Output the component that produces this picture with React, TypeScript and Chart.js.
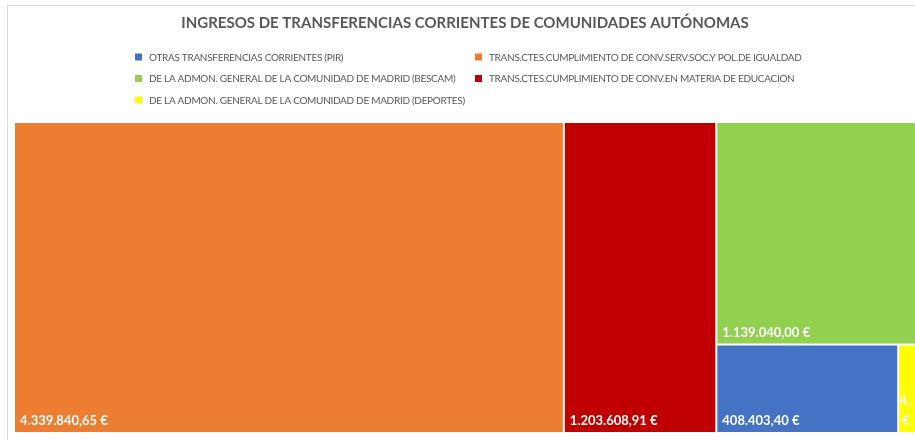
import React, { useEffect, useRef } from "react";
import { Chart, registerables } from "chart.js";

Chart.register(...registerables);

const TITLE = "INGRESOS DE TRANSFERENCIAS CORRIENTES DE COMUNIDADES AUTÓNOMAS";

const categories = [
  "OTRAS TRANSFERENCIAS CORRIENTES (PIR)",
  "TRANS.CTES.CUMPLIMIENTO DE CONV.SERV.SOC.Y POL.DE IGUALDAD",
  "DE LA ADMON. GENERAL DE LA COMUNIDAD DE MADRID (BESCAM)",
  "TRANS.CTES.CUMPLIMIENTO DE CONV.EN MATERIA DE EDUCACION",
  "DE LA ADMON. GENERAL DE LA COMUNIDAD DE MADRID (DEPORTES)",
];

const values = [408403.4, 4339840.65, 1139040.0, 1203608.91, 44500.0];

const colors = ["#4472C4", "#ED7D31", "#92D050", "#C00000", "#FFFF00"];

const fmtEuro = (v: number) => {
  const [i, d] = v.toFixed(2).split(".");
  return i.replace(/\B(?=(\d{3})+(?!\d))/g, ".") + "," + d + " €";
};

type Cell = { idx: number; x0: number; x1: number; y0: number; y1: number };

// Greedy slice layout in data units: largest item takes a strip along the shorter side
function layout(chart: any): Cell[] {
  const xs = chart.scales.x;
  const ys = chart.scales.y;
  const order = values.map((v, i) => i).sort((a, b) => values[b] - values[a]);
  let x0 = 0, x1 = values.reduce((a, b) => a + b, 0), y0 = 0, y1 = 1;
  let remaining = x1;
  const cells: Cell[] = [];
  order.forEach((idx, k) => {
    const v = values[idx];
    const pw = Math.abs(xs.getPixelForValue(x1) - xs.getPixelForValue(x0));
    const ph = Math.abs(ys.getPixelForValue(y1) - ys.getPixelForValue(y0));
    if (k === order.length - 1) {
      cells.push({ idx, x0, x1, y0, y1 });
      return;
    }
    const f = v / remaining;
    if (pw >= ph) {
      const xm = x0 + (x1 - x0) * f;
      cells.push({ idx, x0, x1: xm, y0, y1 });
      x0 = xm;
    } else {
      const ym = y0 + (y1 - y0) * f;
      cells.push({ idx, x0, x1, y0, y1: ym });
      y0 = ym;
    }
    remaining -= v;
  });
  return cells;
}

const FONT = "Lato, 'Noto Sans', sans-serif";

const treemapPlugin = {
  id: "treemapCells",
  beforeDraw(chart: any) {
    const ctx = chart.ctx;
    ctx.save();
    ctx.fillStyle = "#FFFFFF";
    ctx.fillRect(0, 0, chart.width, chart.height);
    ctx.strokeStyle = "#D9D9D9";
    ctx.lineWidth = 1;
    ctx.strokeRect(7.5, 5.5, chart.width + 20, chart.height + 20);
    // title
    ctx.fillStyle = "#595959";
    ctx.font = `bold 15px ${FONT}`;
    ctx.textAlign = "center";
    ctx.textBaseline = "middle";
    ctx.fillText(TITLE, 465, 23);
    // legend (2 columns)
    ctx.font = `10px ${FONT}`;
    try { ctx.letterSpacing = "-0.3px"; } catch (e) {}
    ctx.textAlign = "left";
    const colX = [135, 475];
    const rowY = [57, 78.5, 100];
    categories.forEach((c, i) => {
      const col = i % 2;
      const row = Math.floor(i / 2);
      ctx.fillStyle = colors[i];
      ctx.fillRect(colX[col], rowY[row] - 3.5, 7, 7);
      ctx.fillStyle = "#595959";
      ctx.fillText(c, colX[col] + 14, rowY[row] + 0.5);
    });
    try { ctx.letterSpacing = "0px"; } catch (e) {}
    ctx.restore();
  },
  afterDatasetsDraw(chart: any) {
    const ctx = chart.ctx;
    const xs = chart.scales.x;
    const ys = chart.scales.y;
    const cells = layout(chart);
    ctx.save();
    cells.forEach((c) => {
      const l = xs.getPixelForValue(c.x0);
      const r = xs.getPixelForValue(c.x1);
      const t = ys.getPixelForValue(c.y0);
      const b = ys.getPixelForValue(c.y1);
      ctx.fillStyle = colors[c.idx];
      ctx.fillRect(l + 1, t + 1, r - l - 2, b - t - 2);
    });
    ctx.font = `bold 13px ${FONT}`;
    ctx.fillStyle = "#FFFFFF";
    ctx.textBaseline = "alphabetic";
    cells.forEach((c) => {
      const l = xs.getPixelForValue(c.x0);
      const r = xs.getPixelForValue(c.x1);
      const b = ys.getPixelForValue(c.y1);
      const text = fmtEuro(values[c.idx]);
      const w = r - l;
      const pad = 6;
      if (ctx.measureText(text).width <= w - 2 * pad) {
        ctx.textAlign = "left";
        ctx.fillText(text, l + pad, b - 8);
      } else {
        const avail = w - 2;
        const words = text.split(" ");
        const lines = words.map((wd) => {
          if (ctx.measureText(wd).width <= avail) return wd;
          let s = wd;
          while (s.length > 1 && ctx.measureText(s + "..").width > avail) s = s.slice(0, -1);
          return s + "..";
        });
        ctx.textAlign = "center";
        const cx = l + w / 2 - 2;
        lines.forEach((ln, i) => {
          ctx.fillText(ln, cx, b - 8 - (lines.length - 1 - i) * 20);
        });
      }
    });
    ctx.restore();
  },
};

export default function App() {
  const ref = useRef<HTMLCanvasElement | null>(null);
  useEffect(() => {
    document.body.style.margin = "0";
    document.body.style.overflow = "hidden";
    const total = values.reduce((a, b) => a + b, 0);
    const chart = new Chart(ref.current as HTMLCanvasElement, {
      type: "scatter",
      data: {
        datasets: [{ label: "treemap", data: [], pointRadius: 0 }],
      },
      options: {
        responsive: false,
        animation: false,
        devicePixelRatio: 1,
        layout: { padding: { top: 122, left: 14, right: 2, bottom: 7 } },
        plugins: { legend: { display: false }, title: { display: false }, tooltip: { enabled: false } },
        scales: {
          x: { type: "linear", min: 0, max: total, display: false },
          y: { type: "linear", min: 0, max: 1, reverse: true, display: false },
        },
      },
      plugins: [treemapPlugin],
    });
    return () => chart.destroy();
  }, []);
  return (
    <div style={{ width: 915, height: 440, background: "#fff", overflow: "hidden" }}>
      <canvas ref={ref} width={920} height={440} style={{ display: "block" }} />
    </div>
  );
}
